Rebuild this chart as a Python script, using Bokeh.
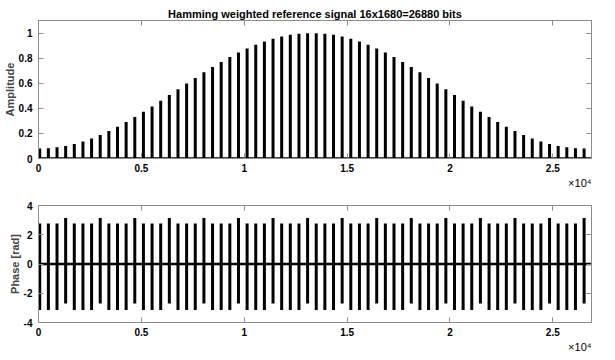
from bokeh.plotting import figure
from bokeh.layouts import column
from bokeh.models import FixedTicker, LinearAxis, Range1d, ColumnDataSource, Title
from bokeh.embed import file_html
from bokeh.resources import INLINE

# ---------------- data ----------------
title_text = "Hamming weighted reference signal 16x1680=26880 bits"

pulse_pos = [60, 480, 900, 1320, 1740, 2160, 2580, 3000, 3420, 3840, 4260, 4680,
             5100, 5520, 5940, 6360, 6780, 7200, 7620, 8040, 8460, 8880, 9300, 9720,
             10140, 10560, 10980, 11400, 11820, 12240, 12660, 13080, 13500, 13920,
             14340, 14760, 15180, 15600, 16020, 16440, 16860, 17280, 17700, 18120,
             18540, 18960, 19380, 19800, 20220, 20640, 21060, 21480, 21900, 22320,
             22740, 23160, 23580, 24000, 24420, 24840, 25260, 25680, 26100, 26520]

amplitude = [0.080, 0.082, 0.089, 0.100, 0.116, 0.136, 0.160, 0.188, 0.219, 0.253,
             0.291, 0.330, 0.372, 0.415, 0.460, 0.506, 0.552, 0.597, 0.642, 0.687,
             0.729, 0.770, 0.809, 0.844, 0.877, 0.907, 0.933, 0.955, 0.972, 0.986,
             0.995, 0.999, 0.999, 0.995, 0.986, 0.972, 0.955, 0.933, 0.907, 0.877,
             0.844, 0.809, 0.770, 0.729, 0.687, 0.642, 0.597, 0.552, 0.506, 0.460,
             0.415, 0.372, 0.330, 0.291, 0.253, 0.219, 0.188, 0.160, 0.136, 0.116,
             0.100, 0.089, 0.082, 0.080]

phase_max = [2.77, 2.77, 2.77, 3.14, 2.77, 2.77, 2.77, 3.14,
             2.77, 2.77, 2.77, 3.14, 2.77, 2.77, 2.77, 3.14,
             2.77, 2.77, 2.77, 3.14, 2.77, 2.77, 2.77, 3.14,
             2.77, 2.77, 2.77, 3.14, 2.77, 2.77, 2.77, 3.14,
             2.77, 2.77, 2.77, 3.14, 2.77, 2.77, 2.77, 3.14,
             2.77, 2.77, 2.77, 3.14, 2.77, 2.77, 2.77, 3.14,
             2.77, 2.77, 2.77, 3.14, 2.77, 2.77, 2.77, 3.14,
             2.77, 2.77, 2.77, 3.14, 2.77, 2.77, 2.77, 3.14]

phase_min = [-3.14, -3.14, -3.14, -2.70, -3.14, -3.14, -3.14, -2.70,
             -3.14, -3.14, -3.14, -2.70, -3.14, -3.14, -3.14, -2.70,
             -3.14, -3.14, -3.14, -2.70, -3.14, -3.14, -3.14, -2.70,
             -3.14, -3.14, -3.14, -2.70, -3.14, -3.14, -3.14, -2.70,
             -3.14, -3.14, -3.14, -2.70, -3.14, -3.14, -3.14, -2.70,
             -3.14, -3.14, -3.14, -2.70, -3.14, -3.14, -3.14, -2.70,
             -3.14, -3.14, -3.14, -2.70, -3.14, -3.14, -3.14, -2.70,
             -3.14, -3.14, -3.14, -2.70, -3.14, -3.14, -3.14, -2.70]

signal_span = [0, 26880]
baseline_level = [0, 0]

x_ticks = [0, 5000, 10000, 15000, 20000, 25000]
x_tick_labels = ["0", "0.5", "1", "1.5", "2", "2.5"]
amp_ticks = [0, 0.2, 0.4, 0.6, 0.8, 1.0]
amp_tick_labels = ["0", "0.2", "0.4", "0.6", "0.8", "1"]
phase_ticks = [-4, -2, 0, 2, 4]
phase_tick_labels = ["-4", "-2", "0", "2", "4"]
exponent_text = "×10⁴"

# ---------------- styling ----------------
FONT = "Liberation Sans"
AX_COL = "#8c8c8c"


def style_axis(ax, ticks, labels, show_labels=True):
    ax.ticker = FixedTicker(ticks=ticks)
    ax.major_tick_in = 5
    ax.major_tick_out = 0
    ax.minor_tick_in = 0
    ax.minor_tick_out = 0
    ax.axis_line_color = AX_COL
    ax.major_tick_line_color = AX_COL
    ax.major_label_text_font = FONT
    ax.major_label_text_font_style = "bold"
    if show_labels:
        ax.major_label_overrides = {t: l for t, l in zip(ticks, labels)}
        ax.major_label_text_color = "black"
        ax.major_label_text_font_size = "10px"
        ax.major_label_standoff = 5
    else:
        ax.major_label_text_color = None
        ax.major_label_text_font_size = "1px"
        ax.major_label_standoff = 0


def make_fig(height, yr, yticks, ylabels, ylabel, top, bottom):
    p = figure(width=595, height=height, x_range=Range1d(signal_span[0], signal_span[1]),
               y_range=Range1d(yr[0], yr[1]), output_backend="svg", toolbar_location=None,
               min_border_left=32, min_border_right=4, min_border_top=top,
               min_border_bottom=bottom)
    p.grid.visible = False
    p.outline_line_color = AX_COL
    p.background_fill_color = "white"
    p.border_fill_color = "white"
    style_axis(p.xaxis[0], x_ticks, x_tick_labels)
    style_axis(p.yaxis[0], yticks, ylabels)
    p.yaxis[0].axis_label = ylabel
    p.yaxis[0].axis_label_text_font = FONT
    p.yaxis[0].axis_label_text_font_style = "bold"
    p.yaxis[0].axis_label_text_font_size = "11px"
    p.yaxis[0].axis_label_standoff = 0
    p.yaxis[0].major_label_standoff = 6
    ax_top = LinearAxis()
    style_axis(ax_top, x_ticks, x_tick_labels, show_labels=False)
    p.add_layout(ax_top, "above")
    ax_right = LinearAxis()
    style_axis(ax_right, yticks, ylabels, show_labels=False)
    p.add_layout(ax_right, "right")
    p.add_layout(Title(text=exponent_text, align="right", text_font=FONT,
                       text_font_size="11px", text_font_style="normal",
                       text_color="black", standoff=1, offset=0), "below")
    return p


src = ColumnDataSource(dict(x=pulse_pos, amp=amplitude, pmax=phase_max, pmin=phase_min))

# ---------------- top: amplitude ----------------
p1 = make_fig(196, (0, 1.1), amp_ticks, amp_tick_labels, "Amplitude", 20, 38)
p1.title.text = title_text
p1.title.align = "center"
p1.title.text_font = FONT
p1.title.text_font_style = "bold"
p1.title.text_font_size = "11px"
p1.title.text_color = "black"
p1.title.standoff = 1
p1.segment(x0="x", y0=0, x1="x", y1="amp", source=src, line_color="black",
           line_width=3, line_cap="butt")
p1.line(signal_span, baseline_level, line_color="black", line_width=2.5)

# ---------------- bottom: phase ----------------
p2 = make_fig(157, (-4, 4), phase_ticks, phase_tick_labels, "Phase [rad]", 9, 31)
p2.segment(x0="x", y0="pmin", x1="x", y1="pmax", source=src, line_color="black",
           line_width=3, line_cap="butt")
p2.line(signal_span, baseline_level, line_color="black", line_width=2.5)

layout = column(p1, p2, spacing=0)
open("out.html", "w").write(file_html(layout, INLINE))
